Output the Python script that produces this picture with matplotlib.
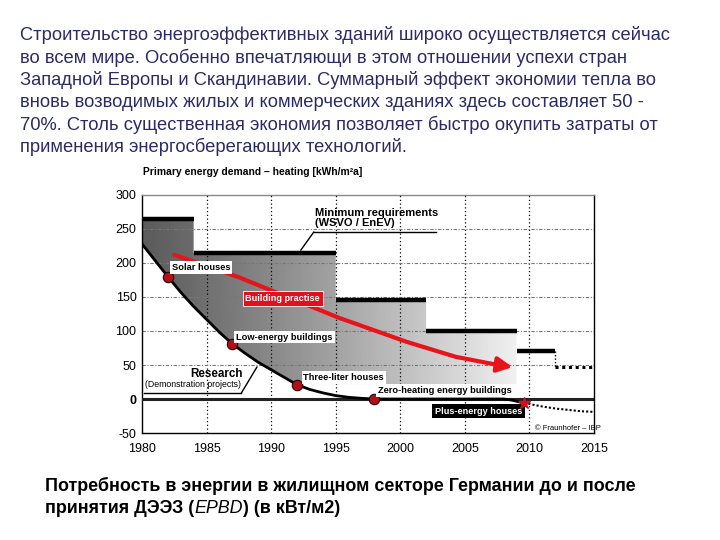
import matplotlib
matplotlib.use("Agg")
import matplotlib.pyplot as plt
import numpy as np
from matplotlib.path import Path
from matplotlib.patches import PathPatch
from matplotlib.text import Annotation

plt.rcParams["font.family"] = ["Liberation Sans", "DejaVu Sans"]

# Текст слайда
paragraph = [
    "Строительство энергоэффективных зданий широко осуществляется сейчас",
    "во всем мире. Особенно впечатляющи в этом отношении успехи стран",
    "Западной Европы и Скандинавии. Суммарный эффект экономии тепла во",
    "вновь возводимых жилых и коммерческих зданиях здесь составляет 50 -",
    "70%. Столь существенная экономия позволяет быстро окупить затраты от",
    "применения энергосберегающих технологий.",
]

# Минимальные требования (WSVO / EnEV), ступенчатая функция
req_years = [1980, 1984, 1995, 2002, 2009, 2012]
req_values = [265, 215, 145, 100, 70]
req_future_years = [2012, 2015]
req_future_value = 47

# Исследования (демонстрационные проекты)
research_years = [1980, 1981, 1982, 1983, 1984, 1985, 1986, 1987, 1988, 1989,
                  1990, 1991, 1992, 1993, 1994, 1995, 1996, 1997, 1998, 2008,
                  2008.6, 2009.6]
research_values = [228, 204, 180, 157, 136, 117, 98, 81, 67, 54,
                   43, 32, 21, 14, 9, 5, 2.5, 1, 0, 0,
                   -1.5, -6]
plus_years = [2009.6, 2011, 2012, 2013, 2014, 2015]
plus_values = [-6, -11, -14, -16, -18, -19]

# Строительная практика
practice_years = [1982.5, 1987.5, 1995.3, 1996.8, 2000.5, 2004.3, 2007.3, 2008.7]
practice_values = [212, 179, 119, 109, 84, 62, 51, 47]

# Отмеченные точки
milestone_years = [1982, 1987, 1992, 1998]
milestone_values = [180, 81, 21, 0]
plus_point = (2009.6, -6)

x_ticks = [1980, 1985, 1990, 1995, 2000, 2005, 2010, 2015]
y_ticks = [-50, 0, 50, 100, 150, 200, 250, 300]

fig = plt.figure(figsize=(7.2, 5.4), dpi=100)

# верхний абзац
for i, line in enumerate(paragraph):
    fig.text(20 / 720, 1 - (35 + i * 22.4) / 540, line, fontsize=13.2,
             color="#2b2b66", va="center", ha="left")

ax = fig.add_axes([142 / 720, 1 - 433 / 540, 452 / 720, 238 / 540])
ax.set_xlim(1980, 2015)
ax.set_ylim(-50, 300)

# градиентная заливка между требованиями и исследованиями
step_x, step_y = [], []
for i, v in enumerate(req_values[:-1]):
    step_x += [req_years[i], req_years[i + 1]]
    step_y += [v, v]
lower_x = np.array(research_years[:19])
lower_y = np.maximum(np.array(research_values[:19]), 22)
lower_x = np.append(lower_x, 2009)
lower_y = np.append(lower_y, 22)
verts = list(zip(step_x, step_y)) + list(zip(lower_x[::-1], lower_y[::-1]))
verts.append(verts[0])
poly = Path(verts, closed=True)
patch = PathPatch(poly, facecolor="none", edgecolor="none")
ax.add_patch(patch)
grad = np.linspace(0, 1, 256) ** 1.1
grad = np.vstack([grad, grad])
img = ax.imshow(grad, extent=[1980, 2009.5, -50, 300], aspect="auto",
                cmap="gray", vmin=-0.6, vmax=1.08, zorder=1,
                interpolation="bilinear")
img.set_clip_path(patch)

# сетка
for x in x_ticks[1:-1]:
    ax.axvline(x, color="black", lw=0.9, ls=(0, (1, 2)), zorder=2)
for y in y_ticks[1:-1]:
    ax.axhline(y, color="#777777", lw=0.8, ls=(0, (3, 1.5, 1, 1.5)), zorder=2)

# линия нуля
ax.plot([1980, 2015], [0, 0], color="#222222", lw=2.2, zorder=3)

# ступенчатая функция требований
for i, v in enumerate(req_values):
    ax.plot([req_years[i], req_years[i + 1]], [v, v], color="black", lw=3.2,
            solid_capstyle="butt", zorder=4)
ax.plot([req_future_years[0]] * 2, [req_values[-1], req_future_value],
        color="black", lw=1, ls=(0, (1, 1.5)), zorder=4)
ax.plot(req_future_years, [req_future_value] * 2, color="black", lw=2.2,
        ls=(0, (1, 1.2)), zorder=4)

# кривая исследований
ax.plot(research_years, research_values, color="black", lw=2, zorder=5)
ax.plot(plus_years, plus_values, color="black", lw=1.5, ls=(0, (1, 1)), zorder=5)
ax.plot(milestone_years, milestone_values, "o", ms=7.5, mfc="#b0101c",
        mec="#300000", mew=0.8, zorder=6)
ax.plot(*plus_point, marker="*", ms=9, color="#d01020", zorder=9)

# строительная практика (красная стрелка)
ax.plot(practice_years[:-1], practice_values[:-1], color="#e8141c", lw=3,
        solid_capstyle="round", zorder=5)
ax.annotate("", xy=(practice_years[-1], practice_values[-1]),
            xytext=(practice_years[-2], practice_values[-2]),
            arrowprops=dict(arrowstyle="-|>,head_length=0.9,head_width=0.45",
                            color="#e8141c", lw=3, shrinkA=0, shrinkB=0),
            zorder=5)

# подписи
lab = dict(fontsize=6.7, fontweight="bold", color="black", va="center",
           ha="left", zorder=8)
white_box = dict(boxstyle="square,pad=0.2", fc="white", ec="none")
ax.text(1993.4, 266, "Minimum requirements\n(WSVO / EnEV)", fontsize=8,
        fontweight="bold", va="center", ha="left", linespacing=0.95, zorder=8)
ax.plot([1993.3, 2002.8], [245.5, 245.5], color="black", lw=1, zorder=8)
ax.plot([1993.3, 1992.3], [245.5, 219], color="black", lw=1, zorder=8)

ax.text(1982.3, 193, "Solar houses", bbox=white_box, **lab)
ax.text(1988.0, 148, "Building practise", fontsize=6.6, fontweight="bold",
        color="white", va="center", ha="left", zorder=8,
        bbox=dict(boxstyle="square,pad=0.3", fc="#e0101c", ec="white", lw=0.6))
ax.text(1987.3, 91, "Low-energy buildings", bbox=white_box, **lab)
ax.text(1985.8, 37, "Research", fontsize=8.4, fontweight="bold", ha="center",
        va="center", zorder=8)
ax.text(1980.2, 21, "(Demonstration projects)", fontsize=6.3, ha="left",
        va="center", zorder=8)
ax.plot([1980.15, 1987.7], [9, 9], color="black", lw=1, zorder=8)
ax.plot([1987.7, 1988.9], [9, 47], color="black", lw=1, zorder=8)
ax.text(1992.5, 32, "Three-liter houses", bbox=white_box, **lab)
ax.text(1998.3, 12, "Zero-heating energy buildings", bbox=white_box, **lab)
ax.text(2002.7, -18, "Plus-energy houses", fontsize=6.6, fontweight="bold",
        color="white", va="center", ha="left", zorder=8,
        bbox=dict(boxstyle="square,pad=0.3", fc="black", ec="none"))
ax.text(2010.4, -43, "© Fraunhofer – IBP", fontsize=5.5, ha="left",
        va="center", zorder=8)

ax.set_xticks(x_ticks)
ax.set_yticks(y_ticks)
ax.set_xticklabels([str(x) for x in x_ticks], fontsize=9)
ax.set_yticklabels([str(y) for y in y_ticks], fontsize=9)
ax.get_yticklabels()[1].set_fontweight("bold")
ax.tick_params(axis="x", length=0, pad=7)
ax.tick_params(axis="y", length=0, pad=4)
for s in ax.spines.values():
    s.set_linewidth(1)
ax.spines["top"].set_color("#888888")

fig.text(143 / 720, 1 - 172 / 540,
         "Primary energy demand – heating [kWh/m²a]", fontsize=7.4,
         fontweight="bold", ha="left", va="center")

# подпись снизу
cap = dict(fontsize=12.9, fontweight="bold", ha="left", va="baseline")
fig.text(45 / 720, 1 - 491 / 540,
         "Потребность в энергии в жилищном секторе Германии до и после", **cap)
t1 = fig.text(45 / 720, 1 - 513 / 540, "принятия ДЭЭЗ (", **cap)
a1 = fig.add_artist(Annotation(
    "EPBD", xy=(1, 0), xycoords=t1, fontsize=12.9, fontstyle="italic",
    ha="left", va="bottom"))
fig.add_artist(Annotation(
    ") (в кВт/м2)", xy=(1, 0), xycoords=a1, fontsize=12.9, fontweight="bold",
    ha="left", va="bottom"))

fig.savefig("out.png", dpi=100)
